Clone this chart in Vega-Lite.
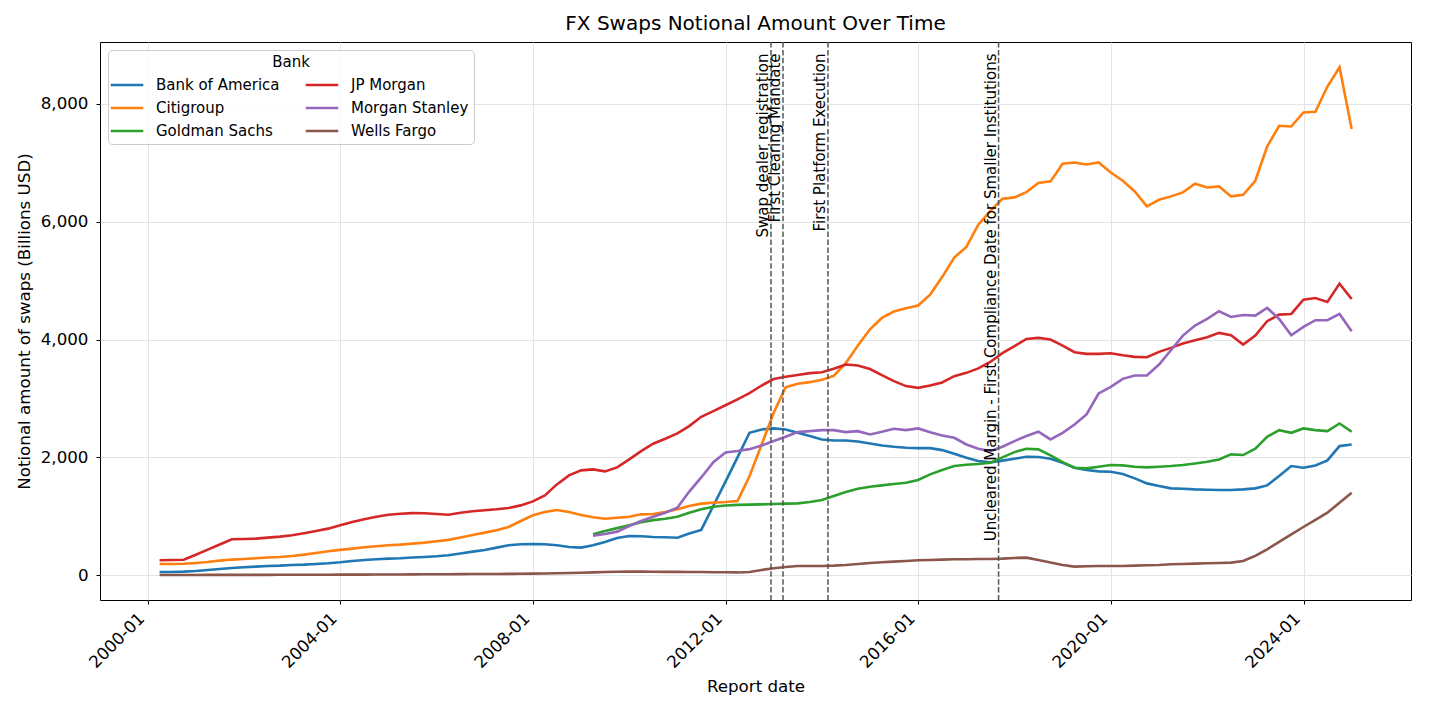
{
  "$schema": "https://vega.github.io/schema/vega-lite/v6.json",
  "autosize": {"type": "none"},
  "width": 1311,
  "height": 558,
  "padding": {"left": 100, "top": 42, "right": 19, "bottom": 115},
  "background": "white",
  "config": {
    "font": "DejaVu Sans",
    "view": {"stroke": "black", "strokeWidth": 1},
    "axis": {
      "labelFontSize": 16.7, "titleFontSize": 16.7, "titleFontWeight": "normal",
      "labelColor": "black", "titleColor": "black", "tickColor": "black",
      "tickSize": 4, "tickWidth": 1, "domain": false,
      "gridColor": "#e4e4e4", "gridWidth": 1, "labelFont": "DejaVu Sans", "titleFont": "DejaVu Sans"
    },
    "legend": {"labelFont": "DejaVu Sans", "titleFont": "DejaVu Sans"},
    "title": {"font": "DejaVu Sans"}
  },
  "title": {"text": "FX Swaps Notional Amount Over Time", "fontSize": 20, "fontWeight": "normal", "color": "black", "offset": 7, "anchor": "middle"},
  "datasets": {
    "events": [
      {"date": "2012-12-10", "event": "Swap dealer registration"},
      {"date": "2013-03-11", "event": "First Clearing Mandate"},
      {"date": "2014-02-15", "event": "First Platform Execution"},
      {"date": "2017-09-01", "event": "Uncleared Margin - First Compliance Date for Smaller Institutions"}
    ],
    "fx": [
{"date":"2000-03-31","bank":"Bank of America","value":56},{"date":"2000-06-30","bank":"Bank of America","value":56},{"date":"2000-09-30","bank":"Bank of America","value":62},{"date":"2000-12-31","bank":"Bank of America","value":73},
{"date":"2001-03-31","bank":"Bank of America","value":90},{"date":"2001-06-30","bank":"Bank of America","value":107},{"date":"2001-09-30","bank":"Bank of America","value":124},{"date":"2001-12-31","bank":"Bank of America","value":136},
{"date":"2002-03-31","bank":"Bank of America","value":147},{"date":"2002-06-30","bank":"Bank of America","value":158},{"date":"2002-09-30","bank":"Bank of America","value":164},{"date":"2002-12-31","bank":"Bank of America","value":175},
{"date":"2003-03-31","bank":"Bank of America","value":181},{"date":"2003-06-30","bank":"Bank of America","value":192},{"date":"2003-09-30","bank":"Bank of America","value":203},{"date":"2003-12-31","bank":"Bank of America","value":220},
{"date":"2004-03-31","bank":"Bank of America","value":243},{"date":"2004-06-30","bank":"Bank of America","value":260},{"date":"2004-09-30","bank":"Bank of America","value":271},{"date":"2004-12-31","bank":"Bank of America","value":282},
{"date":"2005-03-31","bank":"Bank of America","value":288},{"date":"2005-06-30","bank":"Bank of America","value":300},{"date":"2005-09-30","bank":"Bank of America","value":311},{"date":"2005-12-31","bank":"Bank of America","value":322},
{"date":"2006-03-31","bank":"Bank of America","value":339},{"date":"2006-06-30","bank":"Bank of America","value":370},{"date":"2006-09-30","bank":"Bank of America","value":401},{"date":"2006-12-31","bank":"Bank of America","value":429},
{"date":"2007-03-31","bank":"Bank of America","value":469},{"date":"2007-06-30","bank":"Bank of America","value":508},{"date":"2007-09-30","bank":"Bank of America","value":525},{"date":"2007-12-31","bank":"Bank of America","value":531},
{"date":"2008-03-31","bank":"Bank of America","value":525},{"date":"2008-06-30","bank":"Bank of America","value":508},{"date":"2008-09-30","bank":"Bank of America","value":480},{"date":"2008-12-31","bank":"Bank of America","value":469},
{"date":"2009-03-31","bank":"Bank of America","value":508},{"date":"2009-06-30","bank":"Bank of America","value":565},{"date":"2009-09-30","bank":"Bank of America","value":633},{"date":"2009-12-31","bank":"Bank of America","value":667},
{"date":"2010-03-31","bank":"Bank of America","value":661},{"date":"2010-06-30","bank":"Bank of America","value":650},{"date":"2010-09-30","bank":"Bank of America","value":644},{"date":"2010-12-31","bank":"Bank of America","value":636},
{"date":"2011-03-31","bank":"Bank of America","value":708},{"date":"2011-06-30","bank":"Bank of America","value":770},{"date":"2011-09-30","bank":"Bank of America","value":1180},{"date":"2011-12-31","bank":"Bank of America","value":1590},
{"date":"2012-03-31","bank":"Bank of America","value":2000},{"date":"2012-06-30","bank":"Bank of America","value":2418},{"date":"2012-09-30","bank":"Bank of America","value":2475},{"date":"2012-12-31","bank":"Bank of America","value":2492},
{"date":"2013-03-31","bank":"Bank of America","value":2475},{"date":"2013-06-30","bank":"Bank of America","value":2418},{"date":"2013-09-30","bank":"Bank of America","value":2362},{"date":"2013-12-31","bank":"Bank of America","value":2305},
{"date":"2014-03-31","bank":"Bank of America","value":2288},{"date":"2014-06-30","bank":"Bank of America","value":2288},{"date":"2014-09-30","bank":"Bank of America","value":2271},{"date":"2014-12-31","bank":"Bank of America","value":2237},
{"date":"2015-03-31","bank":"Bank of America","value":2203},{"date":"2015-06-30","bank":"Bank of America","value":2181},{"date":"2015-09-30","bank":"Bank of America","value":2164},{"date":"2015-12-31","bank":"Bank of America","value":2158},
{"date":"2016-03-31","bank":"Bank of America","value":2158},{"date":"2016-06-30","bank":"Bank of America","value":2124},{"date":"2016-09-30","bank":"Bank of America","value":2062},{"date":"2016-12-31","bank":"Bank of America","value":1994},
{"date":"2017-03-31","bank":"Bank of America","value":1938},{"date":"2017-06-30","bank":"Bank of America","value":1915},{"date":"2017-09-30","bank":"Bank of America","value":1945},{"date":"2017-12-31","bank":"Bank of America","value":1977},
{"date":"2018-03-31","bank":"Bank of America","value":2011},{"date":"2018-06-30","bank":"Bank of America","value":2006},{"date":"2018-09-30","bank":"Bank of America","value":1977},{"date":"2018-12-31","bank":"Bank of America","value":1910},
{"date":"2019-03-31","bank":"Bank of America","value":1825},{"date":"2019-06-30","bank":"Bank of America","value":1785},{"date":"2019-09-30","bank":"Bank of America","value":1763},{"date":"2019-12-31","bank":"Bank of America","value":1757},
{"date":"2020-03-31","bank":"Bank of America","value":1718},{"date":"2020-06-30","bank":"Bank of America","value":1644},{"date":"2020-09-30","bank":"Bank of America","value":1559},{"date":"2020-12-31","bank":"Bank of America","value":1514},
{"date":"2021-03-31","bank":"Bank of America","value":1475},{"date":"2021-06-30","bank":"Bank of America","value":1469},{"date":"2021-09-30","bank":"Bank of America","value":1458},{"date":"2021-12-31","bank":"Bank of America","value":1452},
{"date":"2022-03-31","bank":"Bank of America","value":1446},{"date":"2022-06-30","bank":"Bank of America","value":1446},{"date":"2022-09-30","bank":"Bank of America","value":1458},{"date":"2022-12-31","bank":"Bank of America","value":1475},
{"date":"2023-03-31","bank":"Bank of America","value":1525},{"date":"2023-06-30","bank":"Bank of America","value":1684},{"date":"2023-09-30","bank":"Bank of America","value":1853},{"date":"2023-12-31","bank":"Bank of America","value":1825},
{"date":"2024-03-31","bank":"Bank of America","value":1864},{"date":"2024-06-30","bank":"Bank of America","value":1949},{"date":"2024-09-30","bank":"Bank of America","value":2192},{"date":"2024-12-31","bank":"Bank of America","value":2220},

{"date":"2000-03-31","bank":"Citigroup","value":190},{"date":"2000-06-30","bank":"Citigroup","value":192},{"date":"2000-09-30","bank":"Citigroup","value":196},{"date":"2000-12-31","bank":"Citigroup","value":209},
{"date":"2001-03-31","bank":"Citigroup","value":226},{"date":"2001-06-30","bank":"Citigroup","value":249},{"date":"2001-09-30","bank":"Citigroup","value":266},{"date":"2001-12-31","bank":"Citigroup","value":277},
{"date":"2002-03-31","bank":"Citigroup","value":288},{"date":"2002-06-30","bank":"Citigroup","value":300},{"date":"2002-09-30","bank":"Citigroup","value":311},{"date":"2002-12-31","bank":"Citigroup","value":328},
{"date":"2003-03-31","bank":"Citigroup","value":350},{"date":"2003-06-30","bank":"Citigroup","value":379},{"date":"2003-09-30","bank":"Citigroup","value":407},{"date":"2003-12-31","bank":"Citigroup","value":430},
{"date":"2004-03-31","bank":"Citigroup","value":452},{"date":"2004-06-30","bank":"Citigroup","value":475},{"date":"2004-09-30","bank":"Citigroup","value":492},{"date":"2004-12-31","bank":"Citigroup","value":509},
{"date":"2005-03-31","bank":"Citigroup","value":520},{"date":"2005-06-30","bank":"Citigroup","value":537},{"date":"2005-09-30","bank":"Citigroup","value":554},{"date":"2005-12-31","bank":"Citigroup","value":576},
{"date":"2006-03-31","bank":"Citigroup","value":600},{"date":"2006-06-30","bank":"Citigroup","value":640},{"date":"2006-09-30","bank":"Citigroup","value":683},{"date":"2006-12-31","bank":"Citigroup","value":723},
{"date":"2007-03-31","bank":"Citigroup","value":763},{"date":"2007-06-30","bank":"Citigroup","value":819},{"date":"2007-09-30","bank":"Citigroup","value":921},{"date":"2007-12-31","bank":"Citigroup","value":1017},
{"date":"2008-03-31","bank":"Citigroup","value":1073},{"date":"2008-06-30","bank":"Citigroup","value":1107},{"date":"2008-09-30","bank":"Citigroup","value":1073},{"date":"2008-12-31","bank":"Citigroup","value":1023},
{"date":"2009-03-31","bank":"Citigroup","value":983},{"date":"2009-06-30","bank":"Citigroup","value":960},{"date":"2009-09-30","bank":"Citigroup","value":977},{"date":"2009-12-31","bank":"Citigroup","value":994},
{"date":"2010-03-31","bank":"Citigroup","value":1034},{"date":"2010-06-30","bank":"Citigroup","value":1040},{"date":"2010-09-30","bank":"Citigroup","value":1073},{"date":"2010-12-31","bank":"Citigroup","value":1119},
{"date":"2011-03-31","bank":"Citigroup","value":1175},{"date":"2011-06-30","bank":"Citigroup","value":1215},{"date":"2011-09-30","bank":"Citigroup","value":1232},{"date":"2011-12-31","bank":"Citigroup","value":1243},
{"date":"2012-03-31","bank":"Citigroup","value":1260},{"date":"2012-06-30","bank":"Citigroup","value":1680},{"date":"2012-09-30","bank":"Citigroup","value":2220},{"date":"2012-12-31","bank":"Citigroup","value":2760},
{"date":"2013-03-31","bank":"Citigroup","value":3190},{"date":"2013-06-30","bank":"Citigroup","value":3250},{"date":"2013-09-30","bank":"Citigroup","value":3277},{"date":"2013-12-31","bank":"Citigroup","value":3316},
{"date":"2014-03-31","bank":"Citigroup","value":3385},{"date":"2014-06-30","bank":"Citigroup","value":3600},{"date":"2014-09-30","bank":"Citigroup","value":3900},{"date":"2014-12-31","bank":"Citigroup","value":4175},
{"date":"2015-03-31","bank":"Citigroup","value":4367},{"date":"2015-06-30","bank":"Citigroup","value":4475},{"date":"2015-09-30","bank":"Citigroup","value":4530},{"date":"2015-12-31","bank":"Citigroup","value":4577},
{"date":"2016-03-31","bank":"Citigroup","value":4763},{"date":"2016-06-30","bank":"Citigroup","value":5060},{"date":"2016-09-30","bank":"Citigroup","value":5393},{"date":"2016-12-31","bank":"Citigroup","value":5573},
{"date":"2017-03-31","bank":"Citigroup","value":5949},{"date":"2017-06-30","bank":"Citigroup","value":6180},{"date":"2017-09-30","bank":"Citigroup","value":6390},{"date":"2017-12-31","bank":"Citigroup","value":6413},
{"date":"2018-03-31","bank":"Citigroup","value":6503},{"date":"2018-06-30","bank":"Citigroup","value":6656},{"date":"2018-09-30","bank":"Citigroup","value":6684},{"date":"2018-12-31","bank":"Citigroup","value":6983},
{"date":"2019-03-31","bank":"Citigroup","value":7006},{"date":"2019-06-30","bank":"Citigroup","value":6972},{"date":"2019-09-30","bank":"Citigroup","value":7006},{"date":"2019-12-31","bank":"Citigroup","value":6836},
{"date":"2020-03-31","bank":"Citigroup","value":6695},{"date":"2020-06-30","bank":"Citigroup","value":6514},{"date":"2020-09-30","bank":"Citigroup","value":6260},{"date":"2020-12-31","bank":"Citigroup","value":6373},
{"date":"2021-03-31","bank":"Citigroup","value":6430},{"date":"2021-06-30","bank":"Citigroup","value":6498},{"date":"2021-09-30","bank":"Citigroup","value":6644},{"date":"2021-12-31","bank":"Citigroup","value":6582},
{"date":"2022-03-31","bank":"Citigroup","value":6599},{"date":"2022-06-30","bank":"Citigroup","value":6430},{"date":"2022-09-30","bank":"Citigroup","value":6458},{"date":"2022-12-31","bank":"Citigroup","value":6695},
{"date":"2023-03-31","bank":"Citigroup","value":7277},{"date":"2023-06-30","bank":"Citigroup","value":7628},{"date":"2023-09-30","bank":"Citigroup","value":7616},{"date":"2023-12-31","bank":"Citigroup","value":7854},
{"date":"2024-03-31","bank":"Citigroup","value":7865},{"date":"2024-06-30","bank":"Citigroup","value":8294},{"date":"2024-09-30","bank":"Citigroup","value":8622},{"date":"2024-12-31","bank":"Citigroup","value":7572},

{"date":"2009-03-31","bank":"Goldman Sachs","value":695},{"date":"2009-06-30","bank":"Goldman Sachs","value":750},{"date":"2009-09-30","bank":"Goldman Sachs","value":800},{"date":"2009-12-31","bank":"Goldman Sachs","value":850},
{"date":"2010-03-31","bank":"Goldman Sachs","value":900},{"date":"2010-06-30","bank":"Goldman Sachs","value":935},{"date":"2010-09-30","bank":"Goldman Sachs","value":960},{"date":"2010-12-31","bank":"Goldman Sachs","value":994},
{"date":"2011-03-31","bank":"Goldman Sachs","value":1062},{"date":"2011-06-30","bank":"Goldman Sachs","value":1119},{"date":"2011-09-30","bank":"Goldman Sachs","value":1164},{"date":"2011-12-31","bank":"Goldman Sachs","value":1185},
{"date":"2012-03-31","bank":"Goldman Sachs","value":1195},{"date":"2012-06-30","bank":"Goldman Sachs","value":1198},{"date":"2012-09-30","bank":"Goldman Sachs","value":1203},{"date":"2012-12-31","bank":"Goldman Sachs","value":1209},
{"date":"2013-03-31","bank":"Goldman Sachs","value":1215},{"date":"2013-06-30","bank":"Goldman Sachs","value":1220},{"date":"2013-09-30","bank":"Goldman Sachs","value":1243},{"date":"2013-12-31","bank":"Goldman Sachs","value":1277},
{"date":"2014-03-31","bank":"Goldman Sachs","value":1345},{"date":"2014-06-30","bank":"Goldman Sachs","value":1412},{"date":"2014-09-30","bank":"Goldman Sachs","value":1469},{"date":"2014-12-31","bank":"Goldman Sachs","value":1503},
{"date":"2015-03-31","bank":"Goldman Sachs","value":1525},{"date":"2015-06-30","bank":"Goldman Sachs","value":1548},{"date":"2015-09-30","bank":"Goldman Sachs","value":1571},{"date":"2015-12-31","bank":"Goldman Sachs","value":1616},
{"date":"2016-03-31","bank":"Goldman Sachs","value":1712},{"date":"2016-06-30","bank":"Goldman Sachs","value":1785},{"date":"2016-09-30","bank":"Goldman Sachs","value":1853},{"date":"2016-12-31","bank":"Goldman Sachs","value":1876},
{"date":"2017-03-31","bank":"Goldman Sachs","value":1887},{"date":"2017-06-30","bank":"Goldman Sachs","value":1910},{"date":"2017-09-30","bank":"Goldman Sachs","value":2000},{"date":"2017-12-31","bank":"Goldman Sachs","value":2090},
{"date":"2018-03-31","bank":"Goldman Sachs","value":2147},{"date":"2018-06-30","bank":"Goldman Sachs","value":2136},{"date":"2018-09-30","bank":"Goldman Sachs","value":2034},{"date":"2018-12-31","bank":"Goldman Sachs","value":1921},
{"date":"2019-03-31","bank":"Goldman Sachs","value":1825},{"date":"2019-06-30","bank":"Goldman Sachs","value":1814},{"date":"2019-09-30","bank":"Goldman Sachs","value":1842},{"date":"2019-12-31","bank":"Goldman Sachs","value":1870},
{"date":"2020-03-31","bank":"Goldman Sachs","value":1864},{"date":"2020-06-30","bank":"Goldman Sachs","value":1842},{"date":"2020-09-30","bank":"Goldman Sachs","value":1831},{"date":"2020-12-31","bank":"Goldman Sachs","value":1842},
{"date":"2021-03-31","bank":"Goldman Sachs","value":1853},{"date":"2021-06-30","bank":"Goldman Sachs","value":1870},{"date":"2021-09-30","bank":"Goldman Sachs","value":1898},{"date":"2021-12-31","bank":"Goldman Sachs","value":1927},
{"date":"2022-03-31","bank":"Goldman Sachs","value":1966},{"date":"2022-06-30","bank":"Goldman Sachs","value":2051},{"date":"2022-09-30","bank":"Goldman Sachs","value":2040},{"date":"2022-12-31","bank":"Goldman Sachs","value":2147},
{"date":"2023-03-31","bank":"Goldman Sachs","value":2350},{"date":"2023-06-30","bank":"Goldman Sachs","value":2463},{"date":"2023-09-30","bank":"Goldman Sachs","value":2418},{"date":"2023-12-31","bank":"Goldman Sachs","value":2492},
{"date":"2024-03-31","bank":"Goldman Sachs","value":2463},{"date":"2024-06-30","bank":"Goldman Sachs","value":2446},{"date":"2024-09-30","bank":"Goldman Sachs","value":2576},{"date":"2024-12-31","bank":"Goldman Sachs","value":2435},

{"date":"2000-03-31","bank":"JP Morgan","value":255},{"date":"2000-06-30","bank":"JP Morgan","value":258},{"date":"2000-09-30","bank":"JP Morgan","value":262},{"date":"2000-12-31","bank":"JP Morgan","value":349},
{"date":"2001-03-31","bank":"JP Morgan","value":435},{"date":"2001-06-30","bank":"JP Morgan","value":522},{"date":"2001-09-30","bank":"JP Morgan","value":610},{"date":"2001-12-31","bank":"JP Morgan","value":615},
{"date":"2002-03-31","bank":"JP Morgan","value":621},{"date":"2002-06-30","bank":"JP Morgan","value":638},{"date":"2002-09-30","bank":"JP Morgan","value":655},{"date":"2002-12-31","bank":"JP Morgan","value":678},
{"date":"2003-03-31","bank":"JP Morgan","value":712},{"date":"2003-06-30","bank":"JP Morgan","value":751},{"date":"2003-09-30","bank":"JP Morgan","value":791},{"date":"2003-12-31","bank":"JP Morgan","value":847},
{"date":"2004-03-31","bank":"JP Morgan","value":904},{"date":"2004-06-30","bank":"JP Morgan","value":949},{"date":"2004-09-30","bank":"JP Morgan","value":994},{"date":"2004-12-31","bank":"JP Morgan","value":1028},
{"date":"2005-03-31","bank":"JP Morgan","value":1045},{"date":"2005-06-30","bank":"JP Morgan","value":1055},{"date":"2005-09-30","bank":"JP Morgan","value":1051},{"date":"2005-12-31","bank":"JP Morgan","value":1040},
{"date":"2006-03-31","bank":"JP Morgan","value":1028},{"date":"2006-06-30","bank":"JP Morgan","value":1060},{"date":"2006-09-30","bank":"JP Morgan","value":1085},{"date":"2006-12-31","bank":"JP Morgan","value":1102},
{"date":"2007-03-31","bank":"JP Morgan","value":1119},{"date":"2007-06-30","bank":"JP Morgan","value":1141},{"date":"2007-09-30","bank":"JP Morgan","value":1186},{"date":"2007-12-31","bank":"JP Morgan","value":1254},
{"date":"2008-03-31","bank":"JP Morgan","value":1356},{"date":"2008-06-30","bank":"JP Morgan","value":1542},{"date":"2008-09-30","bank":"JP Morgan","value":1695},{"date":"2008-12-31","bank":"JP Morgan","value":1780},
{"date":"2009-03-31","bank":"JP Morgan","value":1797},{"date":"2009-06-30","bank":"JP Morgan","value":1763},{"date":"2009-09-30","bank":"JP Morgan","value":1831},{"date":"2009-12-31","bank":"JP Morgan","value":1966},
{"date":"2010-03-31","bank":"JP Morgan","value":2107},{"date":"2010-06-30","bank":"JP Morgan","value":2232},{"date":"2010-09-30","bank":"JP Morgan","value":2316},{"date":"2010-12-31","bank":"JP Morgan","value":2407},
{"date":"2011-03-31","bank":"JP Morgan","value":2531},{"date":"2011-06-30","bank":"JP Morgan","value":2689},{"date":"2011-09-30","bank":"JP Morgan","value":2785},{"date":"2011-12-31","bank":"JP Morgan","value":2885},
{"date":"2012-03-31","bank":"JP Morgan","value":2985},{"date":"2012-06-30","bank":"JP Morgan","value":3090},{"date":"2012-09-30","bank":"JP Morgan","value":3220},{"date":"2012-12-31","bank":"JP Morgan","value":3330},
{"date":"2013-03-31","bank":"JP Morgan","value":3370},{"date":"2013-06-30","bank":"JP Morgan","value":3400},{"date":"2013-09-30","bank":"JP Morgan","value":3430},{"date":"2013-12-31","bank":"JP Morgan","value":3446},
{"date":"2014-03-31","bank":"JP Morgan","value":3503},{"date":"2014-06-30","bank":"JP Morgan","value":3576},{"date":"2014-09-30","bank":"JP Morgan","value":3560},{"date":"2014-12-31","bank":"JP Morgan","value":3500},
{"date":"2015-03-31","bank":"JP Morgan","value":3395},{"date":"2015-06-30","bank":"JP Morgan","value":3295},{"date":"2015-09-30","bank":"JP Morgan","value":3210},{"date":"2015-12-31","bank":"JP Morgan","value":3181},
{"date":"2016-03-31","bank":"JP Morgan","value":3222},{"date":"2016-06-30","bank":"JP Morgan","value":3272},{"date":"2016-09-30","bank":"JP Morgan","value":3379},{"date":"2016-12-31","bank":"JP Morgan","value":3435},
{"date":"2017-03-31","bank":"JP Morgan","value":3510},{"date":"2017-06-30","bank":"JP Morgan","value":3620},{"date":"2017-09-30","bank":"JP Morgan","value":3770},{"date":"2017-12-31","bank":"JP Morgan","value":3887},
{"date":"2018-03-31","bank":"JP Morgan","value":4011},{"date":"2018-06-30","bank":"JP Morgan","value":4028},{"date":"2018-09-30","bank":"JP Morgan","value":4000},{"date":"2018-12-31","bank":"JP Morgan","value":3898},
{"date":"2019-03-31","bank":"JP Morgan","value":3785},{"date":"2019-06-30","bank":"JP Morgan","value":3757},{"date":"2019-09-30","bank":"JP Morgan","value":3757},{"date":"2019-12-31","bank":"JP Morgan","value":3768},
{"date":"2020-03-31","bank":"JP Morgan","value":3734},{"date":"2020-06-30","bank":"JP Morgan","value":3706},{"date":"2020-09-30","bank":"JP Morgan","value":3700},{"date":"2020-12-31","bank":"JP Morgan","value":3791},
{"date":"2021-03-31","bank":"JP Morgan","value":3859},{"date":"2021-06-30","bank":"JP Morgan","value":3932},{"date":"2021-09-30","bank":"JP Morgan","value":3989},{"date":"2021-12-31","bank":"JP Morgan","value":4040},
{"date":"2022-03-31","bank":"JP Morgan","value":4113},{"date":"2022-06-30","bank":"JP Morgan","value":4073},{"date":"2022-09-30","bank":"JP Morgan","value":3915},{"date":"2022-12-31","bank":"JP Morgan","value":4068},
{"date":"2023-03-31","bank":"JP Morgan","value":4311},{"date":"2023-06-30","bank":"JP Morgan","value":4424},{"date":"2023-09-30","bank":"JP Morgan","value":4435},{"date":"2023-12-31","bank":"JP Morgan","value":4678},
{"date":"2024-03-31","bank":"JP Morgan","value":4706},{"date":"2024-06-30","bank":"JP Morgan","value":4638},{"date":"2024-09-30","bank":"JP Morgan","value":4949},{"date":"2024-12-31","bank":"JP Morgan","value":4689},

{"date":"2009-03-31","bank":"Morgan Stanley","value":670},{"date":"2009-06-30","bank":"Morgan Stanley","value":700},{"date":"2009-09-30","bank":"Morgan Stanley","value":740},{"date":"2009-12-31","bank":"Morgan Stanley","value":836},
{"date":"2010-03-31","bank":"Morgan Stanley","value":921},{"date":"2010-06-30","bank":"Morgan Stanley","value":994},{"date":"2010-09-30","bank":"Morgan Stanley","value":1062},{"date":"2010-12-31","bank":"Morgan Stanley","value":1147},
{"date":"2011-03-31","bank":"Morgan Stanley","value":1420},{"date":"2011-06-30","bank":"Morgan Stanley","value":1660},{"date":"2011-09-30","bank":"Morgan Stanley","value":1920},{"date":"2011-12-31","bank":"Morgan Stanley","value":2085},
{"date":"2012-03-31","bank":"Morgan Stanley","value":2110},{"date":"2012-06-30","bank":"Morgan Stanley","value":2140},{"date":"2012-09-30","bank":"Morgan Stanley","value":2200},{"date":"2012-12-31","bank":"Morgan Stanley","value":2277},
{"date":"2013-03-31","bank":"Morgan Stanley","value":2350},{"date":"2013-06-30","bank":"Morgan Stanley","value":2429},{"date":"2013-09-30","bank":"Morgan Stanley","value":2446},{"date":"2013-12-31","bank":"Morgan Stanley","value":2463},
{"date":"2014-03-31","bank":"Morgan Stanley","value":2463},{"date":"2014-06-30","bank":"Morgan Stanley","value":2429},{"date":"2014-09-30","bank":"Morgan Stanley","value":2446},{"date":"2014-12-31","bank":"Morgan Stanley","value":2390},
{"date":"2015-03-31","bank":"Morgan Stanley","value":2435},{"date":"2015-06-30","bank":"Morgan Stanley","value":2486},{"date":"2015-09-30","bank":"Morgan Stanley","value":2463},{"date":"2015-12-31","bank":"Morgan Stanley","value":2492},
{"date":"2016-03-31","bank":"Morgan Stanley","value":2429},{"date":"2016-06-30","bank":"Morgan Stanley","value":2373},{"date":"2016-09-30","bank":"Morgan Stanley","value":2333},{"date":"2016-12-31","bank":"Morgan Stanley","value":2220},
{"date":"2017-03-31","bank":"Morgan Stanley","value":2147},{"date":"2017-06-30","bank":"Morgan Stanley","value":2107},{"date":"2017-09-30","bank":"Morgan Stanley","value":2180},{"date":"2017-12-31","bank":"Morgan Stanley","value":2277},
{"date":"2018-03-31","bank":"Morgan Stanley","value":2362},{"date":"2018-06-30","bank":"Morgan Stanley","value":2435},{"date":"2018-09-30","bank":"Morgan Stanley","value":2305},{"date":"2018-12-31","bank":"Morgan Stanley","value":2418},
{"date":"2019-03-31","bank":"Morgan Stanley","value":2559},{"date":"2019-06-30","bank":"Morgan Stanley","value":2729},{"date":"2019-09-30","bank":"Morgan Stanley","value":3085},{"date":"2019-12-31","bank":"Morgan Stanley","value":3198},
{"date":"2020-03-31","bank":"Morgan Stanley","value":3333},{"date":"2020-06-30","bank":"Morgan Stanley","value":3390},{"date":"2020-09-30","bank":"Morgan Stanley","value":3390},{"date":"2020-12-31","bank":"Morgan Stanley","value":3576},
{"date":"2021-03-31","bank":"Morgan Stanley","value":3819},{"date":"2021-06-30","bank":"Morgan Stanley","value":4068},{"date":"2021-09-30","bank":"Morgan Stanley","value":4237},{"date":"2021-12-31","bank":"Morgan Stanley","value":4350},
{"date":"2022-03-31","bank":"Morgan Stanley","value":4480},{"date":"2022-06-30","bank":"Morgan Stanley","value":4384},{"date":"2022-09-30","bank":"Morgan Stanley","value":4418},{"date":"2022-12-31","bank":"Morgan Stanley","value":4407},
{"date":"2023-03-31","bank":"Morgan Stanley","value":4537},{"date":"2023-06-30","bank":"Morgan Stanley","value":4350},{"date":"2023-09-30","bank":"Morgan Stanley","value":4073},{"date":"2023-12-31","bank":"Morgan Stanley","value":4215},
{"date":"2024-03-31","bank":"Morgan Stanley","value":4328},{"date":"2024-06-30","bank":"Morgan Stanley","value":4328},{"date":"2024-09-30","bank":"Morgan Stanley","value":4435},{"date":"2024-12-31","bank":"Morgan Stanley","value":4141},

{"date":"2000-03-31","bank":"Wells Fargo","value":5},{"date":"2000-06-30","bank":"Wells Fargo","value":5},{"date":"2000-09-30","bank":"Wells Fargo","value":5},{"date":"2000-12-31","bank":"Wells Fargo","value":5},
{"date":"2001-03-31","bank":"Wells Fargo","value":6},{"date":"2001-06-30","bank":"Wells Fargo","value":6},{"date":"2001-09-30","bank":"Wells Fargo","value":6},{"date":"2001-12-31","bank":"Wells Fargo","value":7},
{"date":"2002-03-31","bank":"Wells Fargo","value":7},{"date":"2002-06-30","bank":"Wells Fargo","value":7},{"date":"2002-09-30","bank":"Wells Fargo","value":8},{"date":"2002-12-31","bank":"Wells Fargo","value":8},
{"date":"2003-03-31","bank":"Wells Fargo","value":8},{"date":"2003-06-30","bank":"Wells Fargo","value":9},{"date":"2003-09-30","bank":"Wells Fargo","value":9},{"date":"2003-12-31","bank":"Wells Fargo","value":10},
{"date":"2004-03-31","bank":"Wells Fargo","value":10},{"date":"2004-06-30","bank":"Wells Fargo","value":11},{"date":"2004-09-30","bank":"Wells Fargo","value":12},{"date":"2004-12-31","bank":"Wells Fargo","value":13},
{"date":"2005-03-31","bank":"Wells Fargo","value":14},{"date":"2005-06-30","bank":"Wells Fargo","value":15},{"date":"2005-09-30","bank":"Wells Fargo","value":16},{"date":"2005-12-31","bank":"Wells Fargo","value":17},
{"date":"2006-03-31","bank":"Wells Fargo","value":18},{"date":"2006-06-30","bank":"Wells Fargo","value":19},{"date":"2006-09-30","bank":"Wells Fargo","value":20},{"date":"2006-12-31","bank":"Wells Fargo","value":21},
{"date":"2007-03-31","bank":"Wells Fargo","value":22},{"date":"2007-06-30","bank":"Wells Fargo","value":23},{"date":"2007-09-30","bank":"Wells Fargo","value":25},{"date":"2007-12-31","bank":"Wells Fargo","value":27},
{"date":"2008-03-31","bank":"Wells Fargo","value":30},{"date":"2008-06-30","bank":"Wells Fargo","value":33},{"date":"2008-09-30","bank":"Wells Fargo","value":38},{"date":"2008-12-31","bank":"Wells Fargo","value":42},
{"date":"2009-03-31","bank":"Wells Fargo","value":48},{"date":"2009-06-30","bank":"Wells Fargo","value":55},{"date":"2009-09-30","bank":"Wells Fargo","value":60},{"date":"2009-12-31","bank":"Wells Fargo","value":62},
{"date":"2010-03-31","bank":"Wells Fargo","value":62},{"date":"2010-06-30","bank":"Wells Fargo","value":60},{"date":"2010-09-30","bank":"Wells Fargo","value":58},{"date":"2010-12-31","bank":"Wells Fargo","value":57},
{"date":"2011-03-31","bank":"Wells Fargo","value":56},{"date":"2011-06-30","bank":"Wells Fargo","value":55},{"date":"2011-09-30","bank":"Wells Fargo","value":52},{"date":"2011-12-31","bank":"Wells Fargo","value":50},
{"date":"2012-03-31","bank":"Wells Fargo","value":48},{"date":"2012-06-30","bank":"Wells Fargo","value":56},{"date":"2012-09-30","bank":"Wells Fargo","value":90},{"date":"2012-12-31","bank":"Wells Fargo","value":119},
{"date":"2013-03-31","bank":"Wells Fargo","value":141},{"date":"2013-06-30","bank":"Wells Fargo","value":158},{"date":"2013-09-30","bank":"Wells Fargo","value":158},{"date":"2013-12-31","bank":"Wells Fargo","value":158},
{"date":"2014-03-31","bank":"Wells Fargo","value":164},{"date":"2014-06-30","bank":"Wells Fargo","value":175},{"date":"2014-09-30","bank":"Wells Fargo","value":192},{"date":"2014-12-31","bank":"Wells Fargo","value":209},
{"date":"2015-03-31","bank":"Wells Fargo","value":220},{"date":"2015-06-30","bank":"Wells Fargo","value":232},{"date":"2015-09-30","bank":"Wells Fargo","value":243},{"date":"2015-12-31","bank":"Wells Fargo","value":254},
{"date":"2016-03-31","bank":"Wells Fargo","value":260},{"date":"2016-06-30","bank":"Wells Fargo","value":266},{"date":"2016-09-30","bank":"Wells Fargo","value":271},{"date":"2016-12-31","bank":"Wells Fargo","value":271},
{"date":"2017-03-31","bank":"Wells Fargo","value":277},{"date":"2017-06-30","bank":"Wells Fargo","value":277},{"date":"2017-09-30","bank":"Wells Fargo","value":282},{"date":"2017-12-31","bank":"Wells Fargo","value":294},
{"date":"2018-03-31","bank":"Wells Fargo","value":299},{"date":"2018-06-30","bank":"Wells Fargo","value":260},{"date":"2018-09-30","bank":"Wells Fargo","value":215},{"date":"2018-12-31","bank":"Wells Fargo","value":175},
{"date":"2019-03-31","bank":"Wells Fargo","value":147},{"date":"2019-06-30","bank":"Wells Fargo","value":153},{"date":"2019-09-30","bank":"Wells Fargo","value":158},{"date":"2019-12-31","bank":"Wells Fargo","value":158},
{"date":"2020-03-31","bank":"Wells Fargo","value":158},{"date":"2020-06-30","bank":"Wells Fargo","value":164},{"date":"2020-09-30","bank":"Wells Fargo","value":169},{"date":"2020-12-31","bank":"Wells Fargo","value":175},
{"date":"2021-03-31","bank":"Wells Fargo","value":186},{"date":"2021-06-30","bank":"Wells Fargo","value":192},{"date":"2021-09-30","bank":"Wells Fargo","value":198},{"date":"2021-12-31","bank":"Wells Fargo","value":203},
{"date":"2022-03-31","bank":"Wells Fargo","value":209},{"date":"2022-06-30","bank":"Wells Fargo","value":215},{"date":"2022-09-30","bank":"Wells Fargo","value":243},{"date":"2022-12-31","bank":"Wells Fargo","value":328},
{"date":"2023-03-31","bank":"Wells Fargo","value":441},{"date":"2023-06-30","bank":"Wells Fargo","value":565},{"date":"2023-09-30","bank":"Wells Fargo","value":695},{"date":"2023-12-31","bank":"Wells Fargo","value":819},
{"date":"2024-03-31","bank":"Wells Fargo","value":938},{"date":"2024-06-30","bank":"Wells Fargo","value":1062},{"date":"2024-09-30","bank":"Wells Fargo","value":1232},{"date":"2024-12-31","bank":"Wells Fargo","value":1401}
    ]
  },
  "layer": [
    {
      "data": {"name": "fx"},
      "mark": {"type": "line", "strokeWidth": 2.6, "clip": true},
      "encoding": {
        "x": {
          "field": "date", "type": "temporal",
          "scale": {"type": "utc", "domain": [{"year": 1999, "month": 1, "date": 4, "utc": true}, {"year": 2026, "month": 3, "date": 26, "utc": true}], "nice": false},
          "axis": {
            "title": "Report date", "format": "%Y-%m",
            "values": [{"year": 2000, "month": 1, "date": 1, "utc": true}, {"year": 2004, "month": 1, "date": 1, "utc": true}, {"year": 2008, "month": 1, "date": 1, "utc": true}, {"year": 2012, "month": 1, "date": 1, "utc": true}, {"year": 2016, "month": 1, "date": 1, "utc": true}, {"year": 2020, "month": 1, "date": 1, "utc": true}, {"year": 2024, "month": 1, "date": 1, "utc": true}],
            "labelAngle": -45, "labelAlign": "right", "labelBaseline": "bottom", "labelPadding": 18, "titlePadding": 7, "labelFlush": false, "labelOverlap": false
          }
        },
        "y": {
          "field": "value", "type": "quantitative",
          "scale": {"domain": [-420, 9050], "nice": false, "zero": false},
          "axis": {"title": "Notional amount of swaps (Billions USD)", "values": [0, 2000, 4000, 6000, 8000], "format": ",.0f", "labelPadding": 8, "titlePadding": 7}
        },
        "color": {
          "field": "bank", "type": "nominal",
          "scale": {
            "domain": ["Bank of America", "Citigroup", "Goldman Sachs", "JP Morgan", "Morgan Stanley", "Wells Fargo"],
            "range": ["#1f77b4", "#ff7f0e", "#2ca02c", "#d62728", "#9467bd", "#8c564b"]
          },
          "legend": {
            "title": "Bank", "orient": "top-left", "offset": 8, "columns": 2,
            "symbolType": "M-1.55,0L1.55,0", "symbolSize": 441, "symbolStrokeWidth": 2.6, "symbolOffset": 2,
            "labelFontSize": 15, "titleFontSize": 15, "titleFontWeight": "normal",
            "labelColor": "black", "titleColor": "black",
            "titleAnchor": "middle", "titleAlign": "center",
            "fillColor": "rgba(255,255,255,0.85)", "strokeColor": "#cccccc", "cornerRadius": 4,
            "padding": 5, "rowPadding": 3, "columnPadding": 20, "labelOffset": 17, "titlePadding": 3
          }
        }
      }
    },
    {
      "data": {"name": "events"},
      "mark": {"type": "rule", "color": "#555555", "strokeWidth": 1.5, "strokeDash": [5.5, 2.4]},
      "encoding": {"x": {"field": "date", "type": "temporal"}}
    },
    {
      "data": {"name": "events"},
      "mark": {"type": "text", "angle": 270, "align": "right", "baseline": "bottom", "fontSize": 15, "color": "black", "font": "DejaVu Sans"},
      "encoding": {
        "x": {"field": "date", "type": "temporal"},
        "y": {"datum": 8855},
        "text": {"field": "event"}
      }
    }
  ]
}
